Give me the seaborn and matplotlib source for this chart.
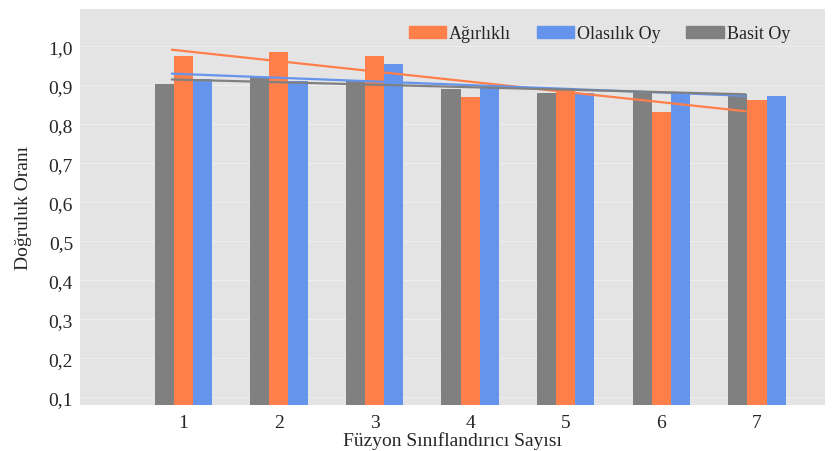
import pandas as pd
import numpy as np
import matplotlib.pyplot as plt
import seaborn as sns
from matplotlib.patches import Patch

# values
siniflandirici = ['1', '2', '3', '4', '5', '6', '7']
basit_oy = [0.903, 0.920, 0.911, 0.891, 0.881, 0.885, 0.877]
agirlikli = [0.975, 0.985, 0.974, 0.870, 0.887, 0.830, 0.862]
olasilik_oy = [0.915, 0.911, 0.954, 0.894, 0.881, 0.881, 0.871]
y_ticks = [0.1, 0.2, 0.3, 0.4, 0.5, 0.6, 0.7, 0.8, 0.9, 1.0]

renkler = {'Basit Oy': '#808080', 'Ağırlıklı': '#FF7F4A', 'Olasılık Oy': '#6494EC'}


def main():
    df = pd.DataFrame({
        'Sayi': siniflandirici * 3,
        'Yontem': ['Basit Oy'] * 7 + ['Ağırlıklı'] * 7 + ['Olasılık Oy'] * 7,
        'Oran': basit_oy + agirlikli + olasilik_oy,
    })

    sns.set_style('whitegrid')
    plt.rcParams['font.family'] = ['Liberation Serif', 'DejaVu Serif']

    fig = plt.figure(figsize=(8.37, 4.52), dpi=100)
    ax = fig.add_axes([0.0956, 0.1018, 0.890, 0.876])
    ax.set_facecolor('#e4e4e4')

    sns.barplot(data=df, x='Sayi', y='Oran', hue='Yontem',
                hue_order=['Basit Oy', 'Ağırlıklı', 'Olasılık Oy'],
                palette=renkler, width=0.6, saturation=1, linewidth=0,
                ax=ax, legend=False)

    # linear trend lines
    xs = np.arange(7)
    for isim, seri in [('Ağırlıklı', agirlikli), ('Olasılık Oy', olasilik_oy), ('Basit Oy', basit_oy)]:
        k, b = np.polyfit(xs + 1, seri, 1)
        ax.plot(xs - 0.12, k * (xs + 1) + b, color=renkler[isim], lw=1.6, zorder=5)

    ax.set_ylim(0.08, 1.095)
    ax.set_xlim(-1.08, 6.71)
    ax.set_yticks(y_ticks)
    ax.set_yticklabels([f'{t:.1f}'.replace('.', ',') for t in y_ticks], fontsize=14)
    ax.tick_params(axis='x', labelsize=14, length=3, color='#cccccc')
    ax.tick_params(axis='y', length=0, pad=5)
    ax.grid(axis='y', color='#eeeeee', lw=0.8)
    ax.grid(axis='x', visible=False)
    for s in ax.spines.values():
        s.set_visible(False)

    ax.set_xlabel('Füzyon Sınıflandırıcı Sayısı', fontsize=14, labelpad=0)
    ax.set_ylabel('Doğruluk Oranı', fontsize=14, labelpad=12)

    handles = [Patch(color=renkler[n]) for n in ['Ağırlıklı', 'Olasılık Oy', 'Basit Oy']]
    ax.legend(handles, ['Ağırlıklı', 'Olasılık Oy', 'Basit Oy'], ncol=3, frameon=False,
              loc='upper right', bbox_to_anchor=(0.975, 1.0), fontsize=13,
              handlelength=2.1, handleheight=0.6, handletextpad=0.15, columnspacing=1.4)

    fig.savefig('out.png', dpi=100)


if __name__ == '__main__':
    main()
